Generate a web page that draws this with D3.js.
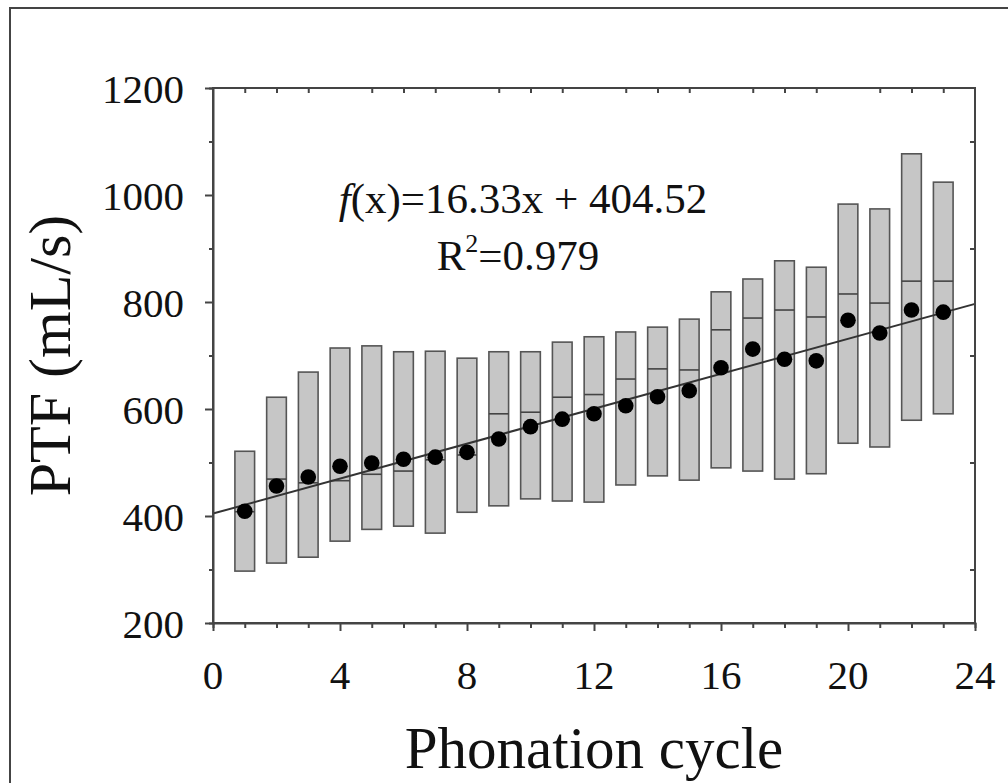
<!DOCTYPE html>
<html>
<head>
<meta charset="utf-8">
<script src="https://cdn.jsdelivr.net/npm/d3@7"></script>
<style>
  body { margin: 0; background: #fff; }
  svg text { font-family: "Liberation Serif", "Times New Roman", serif; fill: #111; }
  .axis path, .axis line { stroke: #444; stroke-width: 2; }
</style>
</head>
<body>
<div id="chart"></div>
<script>
const width = 1008;
const height = 783;

// values
const cycles = [1, 2, 3, 4, 5, 6, 7, 8, 9, 10, 11, 12, 13, 14, 15, 16, 17, 18, 19, 20, 21, 22, 23];
const boxLow = [297, 312, 323, 353, 375, 381, 368, 407, 419, 432, 428, 426, 458, 475, 467, 490, 484, 469, 479, 536, 529, 579, 591];
const boxHigh = [521, 622, 669, 714, 718, 707, 708, 695, 707, 707, 725, 735, 744, 753, 768, 819, 843, 877, 865, 983, 974, 1077, 1024];
const medians = [408, 469, 462, 466, 478, 484, 505, 514, 591, 594, 622, 627, 656, 675, 673, 748, 770, 785, 772, 815, 798, 839, 839];
const means = [409, 456, 473, 493, 499, 506, 510, 519, 544, 567, 581, 591, 606, 623, 634, 677, 712, 693, 690, 766, 742, 785, 781];
const slope = 16.33;
const intercept = 404.52;
const xTicks = [0, 4, 8, 12, 16, 20, 24];
const yTicks = [200, 400, 600, 800, 1000, 1200];

const margin = { top: 88, right: 33, bottom: 160, left: 213 };

const x = d3.scaleLinear().domain([0, 24]).range([margin.left, width - margin.right]);
const y = d3.scaleLinear().domain([200, 1200]).range([height - margin.bottom, margin.top]);

const svg = d3.select("#chart")
  .append("svg")
  .attr("width", width)
  .attr("height", height);

// outer frame of the figure (only top/left visible)
svg.append("rect")
  .attr("x", 10).attr("y", 8)
  .attr("width", 1100).attr("height", 900)
  .attr("fill", "none")
  .attr("stroke", "#444")
  .attr("stroke-width", 2);

const rows = cycles.map((c, i) => ({ c, lo: boxLow[i], hi: boxHigh[i], med: medians[i], mean: means[i] }));
const halfW = 0.31;

// boxes
svg.selectAll(".box")
  .data(rows)
  .enter()
  .append("rect")
  .attr("class", "box")
  .attr("x", d => x(d.c - halfW))
  .attr("width", d => x(d.c + halfW) - x(d.c - halfW))
  .attr("y", d => y(d.hi))
  .attr("height", d => y(d.lo) - y(d.hi))
  .attr("fill", "#c6c6c6")
  .attr("stroke", "#555")
  .attr("stroke-width", 1.6);

svg.selectAll(".median")
  .data(rows)
  .enter()
  .append("line")
  .attr("class", "median")
  .attr("x1", d => x(d.c - halfW))
  .attr("x2", d => x(d.c + halfW))
  .attr("y1", d => y(d.med))
  .attr("y2", d => y(d.med))
  .attr("stroke", "#444")
  .attr("stroke-width", 1.6);

// regression line
svg.append("line")
  .attr("x1", x(0)).attr("y1", y(intercept))
  .attr("x2", x(24)).attr("y2", y(intercept + slope * 24))
  .attr("stroke", "#333")
  .attr("stroke-width", 2);

// means
svg.selectAll(".mean")
  .data(rows)
  .enter()
  .append("circle")
  .attr("class", "mean")
  .attr("cx", d => x(d.c))
  .attr("cy", d => y(d.mean))
  .attr("r", 7.8)
  .attr("fill", "#000");

// axes
const x0 = margin.left, x1 = width - margin.right;
const y0 = height - margin.bottom, y1 = margin.top;

svg.append("g")
  .attr("class", "axis")
  .attr("transform", `translate(0,${y0})`)
  .call(d3.axisBottom(x).tickValues(d3.range(0, 25)).tickSize(5).tickFormat(""))
  .call(g => g.selectAll(".tick line").filter(d => d % 4 === 0).attr("y2", 8));

svg.append("g")
  .attr("class", "axis")
  .attr("transform", `translate(${x0},0)`)
  .call(d3.axisLeft(y).tickValues(d3.range(200, 1201, 100)).tickSize(4).tickFormat(""))
  .call(g => g.selectAll(".tick line").filter(d => d % 200 === 0).attr("x2", -8));

svg.append("g")
  .attr("class", "axis")
  .attr("transform", `translate(0,${y1})`)
  .call(d3.axisBottom(x).tickValues(d3.range(1, 24).filter(d => d % 4 !== 0)).tickSize(5).tickFormat(""))
  .call(g => g.select(".domain").remove());

svg.append("g")
  .attr("class", "axis")
  .attr("transform", `translate(${x1},0)`)
  .call(d3.axisLeft(y).tickValues(d3.range(300, 1200, 200)).tickSize(5).tickFormat(""))
  .call(g => g.select(".domain").remove());

svg.append("rect")
  .attr("x", x0).attr("y", y1)
  .attr("width", x1 - x0).attr("height", y0 - y1)
  .attr("fill", "none")
  .attr("stroke", "#444")
  .attr("stroke-width", 2);

// tick labels
svg.selectAll(".xlab")
  .data(xTicks)
  .enter()
  .append("text")
  .attr("x", d => x(d))
  .attr("y", 689)
  .attr("text-anchor", "middle")
  .attr("font-size", 41)
  .text(d => d);

svg.selectAll(".ylab")
  .data(yTicks)
  .enter()
  .append("text")
  .attr("x", 184)
  .attr("y", d => y(d) + 14.5)
  .attr("text-anchor", "end")
  .attr("font-size", 41)
  .text(d => d);

// axis titles
svg.append("text")
  .attr("x", (x0 + x1) / 2)
  .attr("y", 768)
  .attr("text-anchor", "middle")
  .attr("font-size", 59)
  .text("Phonation cycle");

svg.append("text")
  .attr("transform", `translate(70,${(y0 + y1) / 2}) rotate(-90)`)
  .attr("text-anchor", "middle")
  .attr("font-size", 60)
  .text("PTF (mL/s)");

// regression annotation
const eq = svg.append("text")
  .attr("x", 523)
  .attr("y", 213)
  .attr("text-anchor", "middle")
  .attr("font-size", 43);
eq.append("tspan").attr("font-style", "italic").text("f");
eq.append("tspan").text(`(x)=${slope}x + ${intercept}`);

const r2 = svg.append("text")
  .attr("x", 518)
  .attr("y", 270)
  .attr("text-anchor", "middle")
  .attr("font-size", 43);
r2.append("tspan").text("R");
r2.append("tspan").attr("font-size", 26).attr("dy", -18).text("2");
r2.append("tspan").attr("dy", 18).text("=0.979");
</script>
</body>
</html>
